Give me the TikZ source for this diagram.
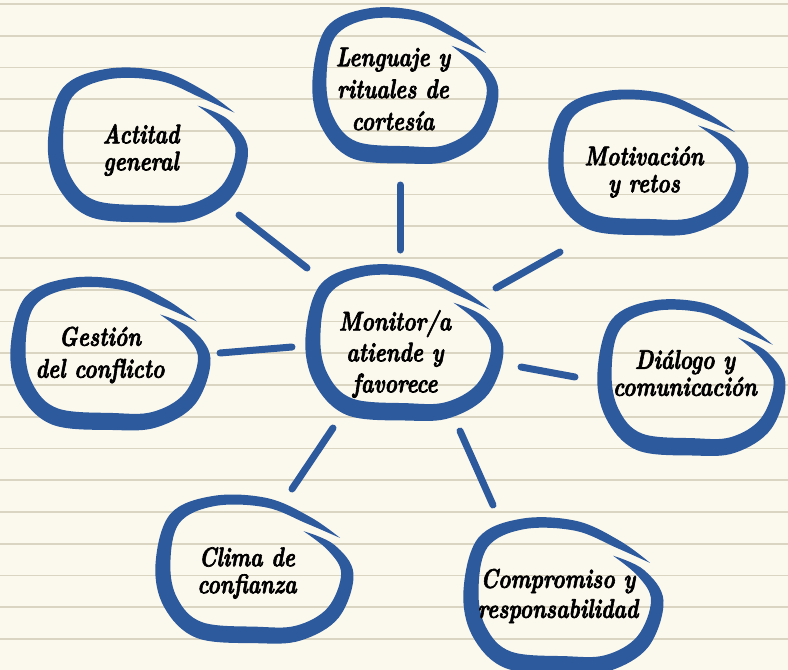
\documentclass[tikz,border=0pt]{standalone}
\definecolor{paper}{HTML}{FBF8EE}
\definecolor{rulecol}{HTML}{DAD4C2}
\definecolor{ink}{HTML}{2C5A9C}
\newcommand\handfont[1]{\fontsize{27}{#1}\selectfont\bfseries\itshape}
\begin{document}
\begin{tikzpicture}[x=1pt,y=-1pt,
  blob/.pic={\fill[ink] plot[smooth,tension=0.6] coordinates {(50,-39) (81,-25) (100.5,5) (85.6,50) (47.4,73.6) (3,76.5) (-58,71) (-90.8,39.2) (-99.5,-5) (-84.6,-56.6) (-40.8,-75.4) (13.8,-73) (57,-53.5) (87,-32)}
     -- plot[smooth,tension=0.6] coordinates {(87,-32) (53,-47) (12.2,-63.5) (-39.2,-65) (-75.4,-47.4) (-84.5,-5) (-77.2,30.8) (-52,55) (3,59.5) (42.6,58.4) (74.4,40) (88,5) (75,-19) (50,-39)} -- cycle;},
  txt/.style={align=center,text=black,inner sep=0pt,xscale=0.78,transform shape,
    execute at begin node={\special{pdf:literal direct 2 Tr 0.7 w}}},
  conn/.style={draw=ink,line width=7pt,line cap=round}]
\fill[paper] (0,0) rectangle (788,670);
\useasboundingbox (0,0) rectangle (788,670);
\foreach \k in {0,...,20} \draw[rulecol,line width=1.6pt] (0,4+31.75*\k) -- (788,4+31.75*\k);
% blobs
\pic[xscale=1.0,yscale=1.01] at (147.5,145) {blob};
\pic[xscale=0.93,yscale=1.02] at (405,85.5) {blob};
\pic[xscale=1.0,yscale=0.95] at (648,162.5) {blob};
\pic[xscale=1.0,yscale=1.0] at (110,353.5) {blob};
\pic[xscale=0.99,yscale=1.02] at (404,342.5) {blob};
\pic[xscale=0.94,yscale=1.02] at (691,377.5) {blob};
\pic[xscale=0.99,yscale=0.97] at (254,569) {blob};
\pic[xscale=1.0,yscale=1.02] at (563,595.5) {blob};
% texts
\node[txt,font=\handfont{27}] (act) at (141,150) {Actitad\\general};
\node[txt,font=\handfont{32}] (len) at (393,89) {Lenguaje y\\rituales de\\cortesía};
\node[txt,font=\handfont{27}] (mot) at (644,172) {Motivación\\y retos};
\node[txt,font=\handfont{32}] (ges) at (100,355) {Gestión\\del conflicto};
\node[txt,font=\handfont{31}] (mon) at (395,354) {Monitor/a\\atiende y\\favorece};
\node[txt,font=\handfont{27}] (dia) at (685,373) {Diálogo y\\comunicación};
\node[txt,font=\handfont{27}] (cli) at (247,573) {Clima de\\confianza};
\node[txt,font=\handfont{30}] (com) at (558,596) {Compromiso y\\responsabilidad};
% connector ends
\coordinate (c1a) at (239,215); \coordinate (c1b) at (307,268);
\coordinate (c2a) at (400,185); \coordinate (c2b) at (400,250);
\coordinate (c3a) at (560,252); \coordinate (c3b) at (496,288);
\coordinate (c4a) at (220,353); \coordinate (c4b) at (292,347);
\coordinate (c5a) at (521,367); \coordinate (c5b) at (575,377);
\coordinate (c6a) at (333,428); \coordinate (c6b) at (292,489);
\coordinate (c7a) at (460,431); \coordinate (c7b) at (493,505);
\draw[conn] (c1a) -- (c1b);
\draw[conn] (c2a) -- (c2b);
\draw[conn] (c3a) -- (c3b);
\draw[conn] (c4a) -- (c4b);
\draw[conn] (c5a) -- (c5b);
\draw[conn] (c6a) -- (c6b);
\draw[conn] (c7a) -- (c7b);
\end{tikzpicture}
\end{document}
